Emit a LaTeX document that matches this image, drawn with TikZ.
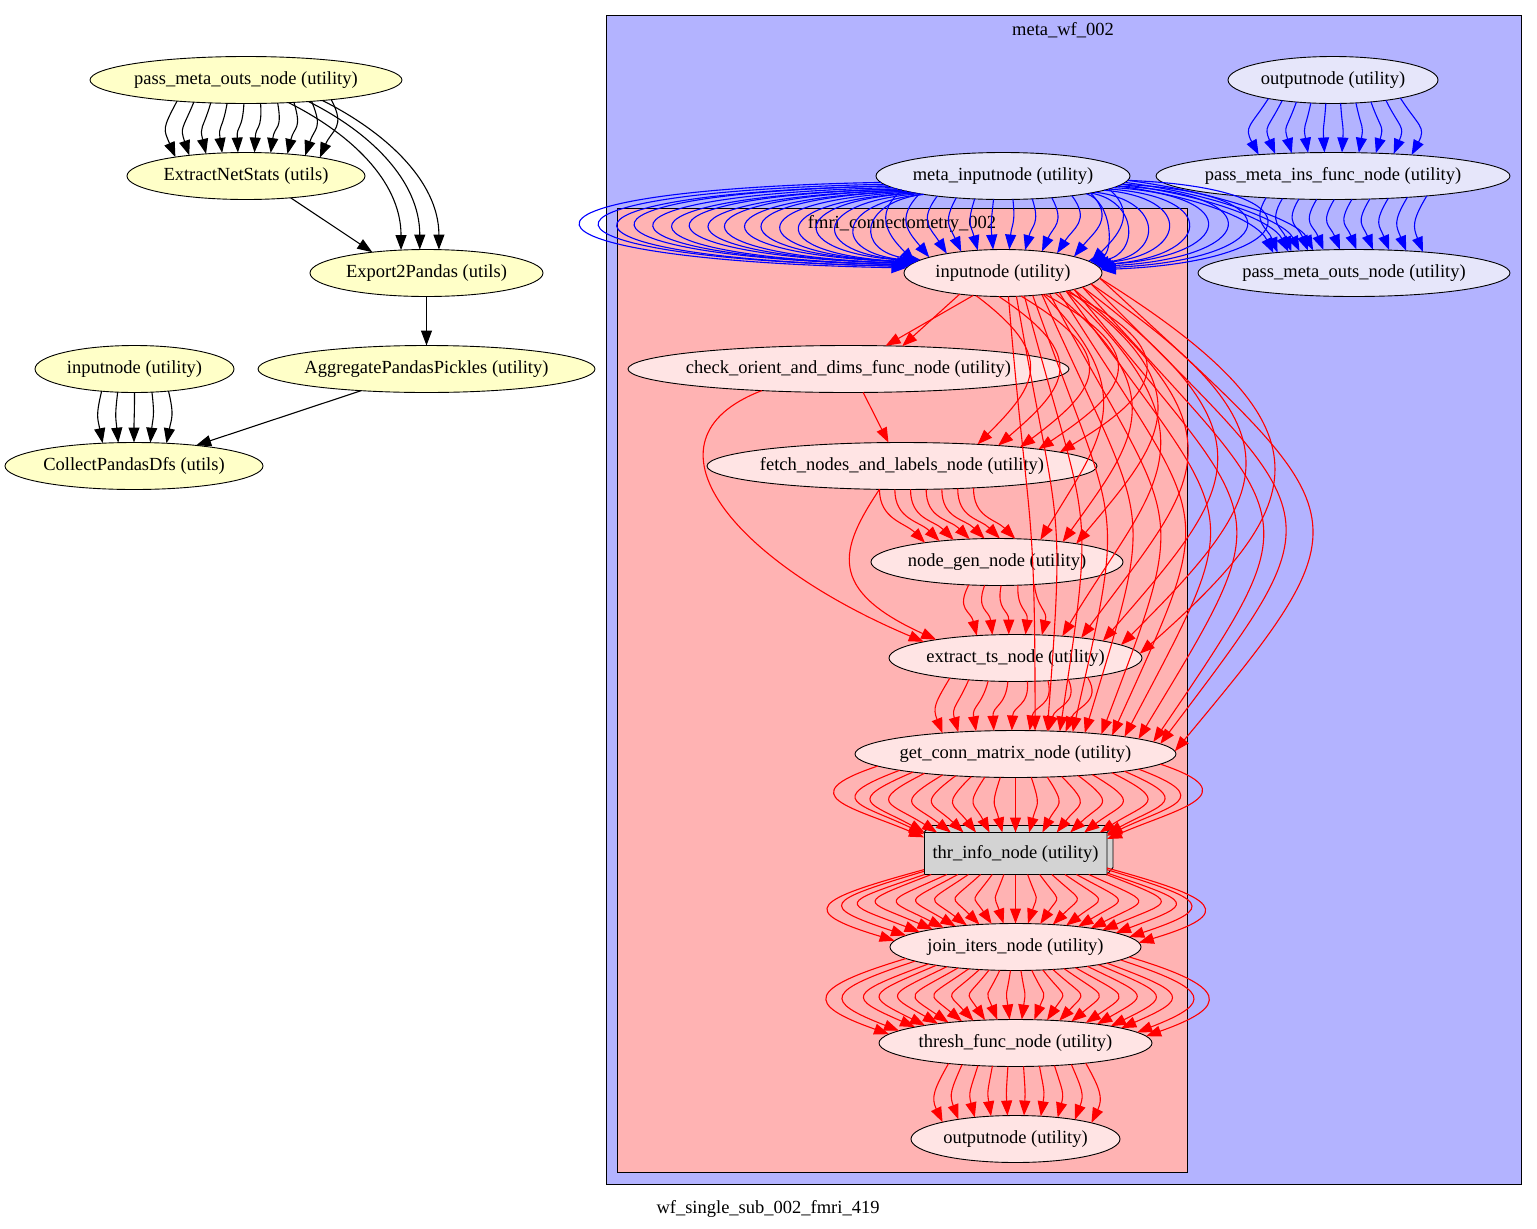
\documentclass[tikz,border=0pt]{standalone}
\usepackage{fontspec}
\setmainfont{Liberation Serif}
\usepackage{tikz}
\usetikzlibrary{shapes.geometric, arrows.meta, positioning, calc}
\definecolor{ylfill}{RGB}{255,255,200}
\definecolor{metabg}{RGB}{179,179,255}
\definecolor{fmribg}{RGB}{255,179,179}
\definecolor{mtfill}{RGB}{230,230,250}
\definecolor{fmfill}{RGB}{255,228,228}
\definecolor{boxgray}{RGB}{211,211,211}
\newcommand\wffont{\fontsize{18.5}{20}\selectfont}
\tikzset{
  wfnode/.style={ellipse, draw, line width=0.9pt, inner xsep=-40pt, inner ysep=0pt,
                 outer sep=0pt, minimum height=47pt, font=\wffont},
  ylnode/.style={wfnode, fill=ylfill},
  mtnode/.style={wfnode, fill=mtfill},
  fmnode/.style={wfnode, fill=fmfill},
  boxnode/.style={rectangle, draw, fill=boxgray, line width=0.9pt, inner sep=0pt,
                  outer sep=0pt, minimum width=183pt, minimum height=42pt, font=\wffont},
  cluster/.style={draw, line width=0.9pt},
  lbl/.style={font=\wffont},
  bkedge/.style={black, line width=1.1pt, -{Triangle[length=15pt,width=11pt]}},
  bledge/.style={blue, line width=1.1pt, -{Triangle[length=15pt,width=11pt]}},
  rdedge/.style={red, line width=1.1pt, -{Triangle[length=15pt,width=11pt]}}
}
% border angle of a point dx off the centre of an ellipse (ry 23.5)
\newcommand\bordang[4]{\pgfmathsetmacro#1{atan2(#4*23.5*sqrt(1-((#2)/(#3))^2),#2)}}
% fan of parallel edges: src, tgt, count, src offset, src rx, tgt offset, tgt rx, ctrl1, ctrl2
\newcommand\edgefan[9]{%
  \foreach \i in {1,...,#3}{%
    \pgfmathsetmacro\fd{(2*\i-#3-1)/(#3-1)}%
    \pgfmathsetmacro\fsx{#4}\bordang\fsa{\fsx}{#5}{-1}%
    \pgfmathsetmacro\ftx{#6}\bordang\fta{\ftx}{#7}{1}%
    \draw (#1.\fsa) .. controls +(#8) and +(#9) .. (#2.\fta);
  }}

\begin{document}
\begin{tikzpicture}[x=1pt, y=-1pt, node distance=49pt]
  \useasboundingbox (0,0) rectangle (1537,1229);
  \draw[cluster, fill=metabg] (606,15) rectangle (1521,1184);
  \draw[cluster, fill=fmribg] (617,208) rectangle (1187,1172);
  \node[lbl] (metalbl) at (1063,30) {meta\_wf\_002};
  \node[lbl] (fmrilbl) at (902,224) {fmri\_connectometry\_002};
  \node[lbl] (caption) at (768,1209) {wf\_single\_sub\_002\_fmri\_419};

  \node[ylnode, minimum width=312pt] (lpmo) at (246,80) {pass\_meta\_outs\_node (utility)};
  \node[ylnode, minimum width=238pt] (ens)  at (246,176) {ExtractNetStats (utils)};
  \node[ylnode, minimum width=233pt] (e2p)  at (426.5,273) {Export2Pandas (utils)};
  \node[ylnode, minimum width=337pt] (agg)  at (426.5,369) {AggregatePandasPickles (utility)};
  \node[ylnode, minimum width=199pt] (linp) at (134.5,369) {inputnode (utility)};
  \node[ylnode, minimum width=258pt] (cpd)  at (134,466) {CollectPandasDfs (utils)};

  \node[mtnode, minimum width=210pt] (mout) at (1333,80) {outputnode (utility)};
  \node[mtnode, minimum width=254pt] (minp) at (1003,176) {meta\_inputnode (utility)};
  \node[mtnode, minimum width=354pt] (pmif) at (1333,176) {pass\_meta\_ins\_func\_node (utility)};
  \node[mtnode, minimum width=312pt] (pmon) at (1354,273) {pass\_meta\_outs\_node (utility)};

  \node[fmnode, minimum width=198pt] (inp)   at (1003,273) {inputnode (utility)};
  \node[fmnode, minimum width=441pt] (chk)   at (848.5,369) {check\_orient\_and\_dims\_func\_node (utility)};
  \node[fmnode, minimum width=390pt] (fetch) at (902,466) {fetch\_nodes\_and\_labels\_node (utility)};
  \node[fmnode, minimum width=252pt] (ngen)  at (997,562) {node\_gen\_node (utility)};
  \node[fmnode, minimum width=253pt] (ets)   at (1015.5,658) {extract\_ts\_node (utility)};
  \node[fmnode, minimum width=321pt, below=of ets] (gcm) {get\_conn\_matrix\_node (utility)};
  \node[boxnode, below=55pt of gcm] (thr) {thr\_info\_node (utility)};
  \draw[line width=0.9pt, fill=boxgray] (thr.north west) -- ++(6,-7) -- ($(thr.north east)+(6,-7)$)
    -- ($(thr.south east)+(6,-7)$) -- (thr.south east) -- (thr.north east) -- cycle;
  \draw[line width=0.9pt] (thr.north east) -- ++(6,-7);
  \node[fmnode, minimum width=251pt, below=of thr] (join)   {join\_iters\_node (utility)};
  \node[fmnode, minimum width=273pt, below=of join] (thresh) {thresh\_func\_node (utility)};
  \node[fmnode, minimum width=209pt, below=of thresh] (iout) {outputnode (utility)};

  \begin{scope}[bkedge]
    \edgefan{lpmo}{ens}{10}{6+\fd*75}{156}{\fd*73}{119}{\fd*15,28}{\fd*12,-28}
    \foreach \s/\t in {41/-26, 61/-7, 76/12}{
      \bordang\fsa{\s}{156}{-1}\bordang\fta{\t}{116.5}{1}
      \draw (lpmo.\fsa) .. controls +(60,30) and +(0,-70) .. (e2p.\fta);
    }
    \draw (ens.-26) -- (e2p.159);
    \draw (e2p) -- (agg);
    \draw (agg) -- (cpd);
    \edgefan{linp}{cpd}{5}{\fd*34}{99.5}{\fd*32}{129}{\fd*6,25}{\fd*5,-25}
  \end{scope}

  \begin{scope}[bledge]
    \edgefan{mout}{pmif}{10}{\fd*67}{105}{\fd*77}{177}{\fd*18,28}{\fd*15,-28}
    \edgefan{pmif}{pmon}{10}{10+\fd*80}{177}{-6+\fd*74}{156}{-15,25}{-10,-25}
    \edgefan{minp}{inp}{12}{\fd*105}{127}{-2+\fd*88}{99}{\fd*30,25}{\fd*25,-25}
    \foreach \k in {0,...,16}{
      \pgfmathsetmacro\fu{\k/16}
      \pgfmathsetmacro\fsx{-124+44*\fu}\bordang\fsa{\fsx}{127}{-1}
      \pgfmathsetmacro\ftx{-97+12*\fu}\bordang\fta{\ftx}{99}{1}
      \pgfmathsetmacro\fa{((2006+\fsx+\ftx)/2-580-18.2*\k)/0.75}
      \draw (minp.\fsa) .. controls +(-\fa,8) and +(-\fa,-8) .. (inp.\fta);
    }
    \foreach \k in {0,...,8}{
      \pgfmathsetmacro\fu{\k/8}
      \pgfmathsetmacro\fsx{124-44*\fu}\bordang\fsa{\fsx}{127}{-1}
      \pgfmathsetmacro\ftx{97-12*\fu}\bordang\fta{\ftx}{99}{1}
      \pgfmathsetmacro\fa{(1265-20*\k-(2006+\fsx+\ftx)/2)/0.75}
      \draw (minp.\fsa) .. controls +(\fa,8) and +(\fa,-8) .. (inp.\fta);
    }
    \foreach \s/\t in {112/-81, 116/-68, 120/-55, 124/-42}{
      \bordang\fsa{\s}{127}{-1}\bordang\fta{\t}{156}{1}
      \draw (minp.\fsa) .. controls +(90,12) and +(-15,-30) .. (pmon.\fta);
    }
  \end{scope}

  \begin{scope}[rdedge]
    \foreach \s/\t in {-44/52, -30/37}{
      \bordang\fsa{\s}{99}{-1}\bordang\fta{\t}{220.5}{1}
      \draw (inp.\fsa) -- (chk.\fta);
    }
    \bordang\fsa{14.5}{220.5}{-1}\bordang\fta{-14}{195}{1}
    \draw (chk.\fsa) -- (fetch.\fta);
    \bordang\fsa{-90}{220.5}{-1}\bordang\fta{-95}{126.5}{1}
    \draw (chk.\fsa) .. controls +(-130,50) and +(-190,-80) .. (ets.\fta);
    \bordang\fsa{-23}{195}{-1}\bordang\fta{-80}{126.5}{1}
    \draw (fetch.\fsa) .. controls +(-40,60) and +(-110,-50) .. (ets.\fta);
    \edgefan{fetch}{ngen}{7}{24+\fd*47}{195}{-28+\fd*46}{126}{0,30}{-20,-20}
    \edgefan{inp}{fetch}{5}{18+\fd*45}{99}{112+\fd*37}{195}{100+\fd*20,60}{80+\fd*20,-60}
    \foreach \s/\t/\b in {40/43/100, 52/63/120, 64/78/140}{
      \bordang\fsa{\s}{99}{-1}\bordang\fta{\t}{126}{1}
      \draw (inp.\fsa) .. controls +(\b,100) and +(\b*0.6,-100) .. (ngen.\fta);
    }
    \edgefan{inp}{ets}{5}{78+\fd*17}{99}{84+\fd*38}{126.5}{200+\fd*40,150}{130+\fd*40,-150}
    \edgefan{ngen}{ets}{5}{4+\fd*33}{126}{-7+\fd*33}{126.5}{\fd*8-5,25}{\fd*6,-25}
    \edgefan{ets}{gcm}{8}{2+\fd*69}{126.5}{-13+\fd*63}{160.5}{\fd*15,25}{\fd*10,-25}
    \edgefan{inp}{gcm}{12}{50+\fd*45}{99}{88+\fd*69}{160.5}{140+\fd*120,240}{100+\fd*100,-240}
    \edgefan{gcm}{thr}{19}{\fd*138}{160.5}{\fd*135}{10000}{\fd*90,30}{\fd*70,-30}
    \edgefan{thr}{join}{21}{\fd*135}{10000}{\fd*122}{125.5}{\fd*110,30}{\fd*100,-30}
    \edgefan{join}{thresh}{22}{\fd*112}{125.5}{\fd*130}{136.5}{\fd*100,30}{\fd*85,-30}
    \edgefan{thresh}{iout}{10}{\fd*70}{136.5}{\fd*74}{104.5}{\fd*14,25}{\fd*12,-25}
  \end{scope}
\end{tikzpicture}
\end{document}
